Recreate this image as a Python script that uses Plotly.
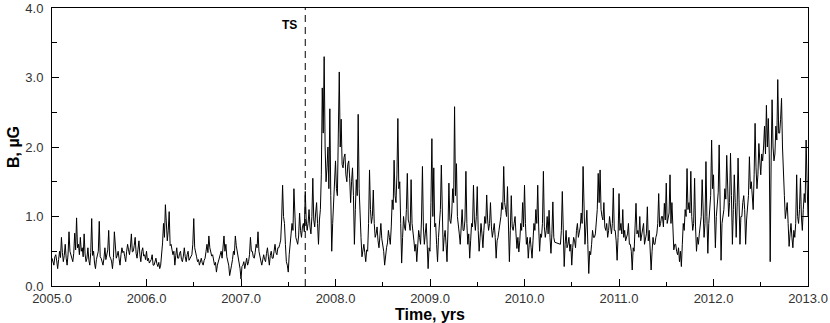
import plotly.graph_objects as go

# B-field magnitude, read roughly every 0.01 yr (100 samples per year)
SAMPLES_PER_YEAR = 100
TS_YEAR = 2007.68

b_2005 = [0.4, 0.33, 0.3, 0.42, 0.45, 0.36, 0.25, 0.38, 0.5, 0.41, 0.7, 0.48, 0.35, 0.44, 0.6, 0.4, 0.3, 0.46, 0.78, 0.5,
          0.45, 0.38, 0.35, 0.47, 0.76, 0.52, 0.98, 0.55, 0.6, 0.45, 0.7, 0.5, 0.55, 0.42, 0.75, 0.46, 0.35, 0.4, 0.55, 0.37,
          0.3, 0.48, 0.97, 0.44, 0.5, 0.33, 0.25, 0.38, 0.45, 0.5, 0.93, 0.42, 0.4, 0.35, 0.3, 0.4, 0.55, 0.38, 0.45, 0.52,
          0.8, 0.43, 0.4, 0.36, 0.25, 0.41, 0.78, 0.47, 0.4, 0.44, 0.5, 0.39, 0.3, 0.45, 0.55, 0.48, 0.5, 0.42, 0.35, 0.5,
          0.6, 0.52, 0.45, 0.56, 0.75, 0.49, 0.5, 0.58, 0.7, 0.47, 0.4, 0.53, 0.65, 0.45, 0.35, 0.5, 0.55, 0.43, 0.45, 0.38]
b_2006 = [0.5, 0.36, 0.4, 0.33, 0.35, 0.38, 0.45, 0.3, 0.3, 0.35, 0.4, 0.32, 0.28, 0.34, 0.25, 0.3, 0.45, 0.62, 0.9, 0.7,
          1.17, 0.75, 0.65, 0.8, 1.07, 0.58, 0.6, 0.52, 0.45, 0.5, 0.3, 0.44, 0.55, 0.4, 0.4, 0.47, 0.5, 0.38, 0.35, 0.43,
          0.55, 0.42, 0.35, 0.45, 0.5, 0.37, 0.4, 0.44, 0.45, 0.6, 0.97, 0.55, 0.5, 0.42, 0.35, 0.38, 0.3, 0.35, 0.4, 0.33,
          0.3, 0.37, 0.4, 0.5, 0.6, 0.48, 0.72, 0.55, 0.5, 0.43, 0.45, 0.38, 0.3, 0.34, 0.2, 0.3, 0.35, 0.4, 0.45, 0.5,
          0.4, 0.55, 0.72, 0.5, 0.6, 0.42, 0.35, 0.3, 0.15, 0.27, 0.3, 0.38, 0.5, 0.45, 0.72, 0.58, 0.5, 0.4, 0.3, 0.25]
b_2007 = [0.1, 0.28, 0.3, 0.35, 0.25, 0.33, 0.4, 0.3, 0.35, 0.45, 0.7, 0.5, 0.5, 0.42, 0.4, 0.48, 0.6, 0.55, 0.78, 0.5,
          0.45, 0.36, 0.3, 0.4, 0.45, 0.38, 0.35, 0.47, 0.55, 0.42, 0.3, 0.44, 0.5, 0.4, 0.4, 0.5, 0.6, 0.48, 0.45, 0.55,
          0.55, 0.6, 0.66, 0.95, 1.45, 1.0, 0.9, 0.6, 0.35, 0.3, 0.2, 0.45, 0.66, 0.75, 0.9, 0.8, 1.4, 0.85, 0.7, 0.65,
          0.6, 0.72, 1.05, 0.8, 0.7, 0.85, 0.9, 0.78, 1.36, 0.95, 0.8, 0.9, 1.1, 0.85, 0.75, 1.0, 1.55, 0.95, 0.85, 1.05,
          1.2, 0.9, 0.6, 0.95, 1.1, 1.6, 2.85, 2.2, 3.3, 2.0, 1.5, 1.7, 2.0, 1.4, 2.55, 1.3, 0.5, 0.9, 1.2, 1.5]
b_2008 = [1.8, 1.4, 1.3, 2.2, 3.08, 2.0, 2.4, 1.75, 1.7, 1.85, 1.9, 1.6, 1.5, 1.75, 1.8, 1.55, 1.2, 1.5, 1.7, 1.3,
          0.6, 1.1, 1.53, 1.3, 2.47, 1.4, 0.9, 0.7, 0.42, 0.55, 0.6, 0.48, 0.35, 0.52, 0.5, 0.9, 1.67, 1.1, 0.9, 1.0,
          1.38, 0.9, 0.7, 0.75, 0.85, 0.65, 0.55, 0.72, 0.9, 0.68, 0.6, 0.5, 0.3, 0.45, 0.55, 0.62, 0.8, 0.7, 0.6, 0.85,
          1.24, 1.1, 1.81, 1.3, 1.2, 1.6, 2.41, 1.4, 1.5, 0.9, 0.33, 0.7, 1.0, 0.85, 0.8, 1.1, 1.62, 0.95, 0.9, 0.8,
          1.53, 0.9, 0.7, 0.65, 0.5, 0.6, 0.35, 0.55, 0.8, 0.7, 0.6, 0.95, 1.72, 0.85, 0.6, 0.75, 0.9, 0.6, 0.25, 0.55]
b_2009 = [0.5, 1.2, 2.12, 1.0, 1.7, 0.85, 0.9, 0.6, 0.35, 0.7, 0.9, 1.1, 1.74, 0.9, 0.5, 0.7, 0.8, 0.6, 0.35, 0.8,
          1.48, 0.95, 0.9, 1.05, 1.4, 1.2, 2.58, 1.3, 1.76, 1.0, 0.9, 0.75, 0.6, 0.85, 1.1, 0.8, 0.8, 0.95, 1.65, 0.9,
          0.6, 0.75, 0.4, 0.65, 0.9, 0.85, 1.45, 0.95, 0.8, 1.0, 1.43, 0.8, 0.5, 0.7, 0.9, 0.75, 0.55, 0.8, 1.0, 0.9,
          1.31, 0.95, 0.8, 0.9, 1.2, 0.85, 0.7, 0.8, 0.9, 0.7, 0.4, 0.65, 0.7, 0.8, 0.9, 1.0, 1.2, 1.1, 1.72, 1.2,
          1.1, 1.0, 1.43, 0.9, 0.35, 0.8, 1.3, 0.85, 0.8, 0.9, 1.0, 0.75, 0.54, 0.7, 0.49, 0.65, 0.9, 0.8, 1.2, 0.85]
# None = data gap (joined by a straight line, as in the source)
b_2010 = [1.45, 0.9, 0.6, 0.7, 0.4, 0.6, 0.7, 0.55, 0.4, 0.65, 0.9, 0.8, 1.1, 0.9, 1.45, 0.85, 0.5, 0.75, 0.7, 0.9,
          1.65, 0.85, 0.7, 0.8, 1.0, 0.75, 1.09, 0.7, 0.47, 0.75, 1.21, 0.7, 0.63, None, None, None, None, None, 0.6, 0.8,
          1.36, 0.7, 0.28, 0.6, 0.8, 0.55, 0.6, 0.7, 0.5, 0.6, 0.3, 0.55, 0.7, 0.65, 0.55, 0.8, 0.9, 0.7, 0.8, 0.85,
          1.05, 0.9, 1.72, 0.8, 0.6, 0.85, 1.09, 0.6, 0.18, 0.5, 0.45, 0.6, 0.8, 0.7, 0.7, 0.75, 0.95, 1.1, 1.62, 1.2,
          1.67, 1.1, 1.0, 0.95, 1.2, 0.85, 0.8, 0.9, 0.7, 0.8, 1.0, 0.85, 0.75, 0.9, 1.41, 0.8, 0.8, 0.65, 0.37, 0.7]
b_2011 = [1.33, 0.8, 0.9, 0.75, 1.1, 0.7, 0.8, 0.65, 0.7, 0.75, 0.9, 0.6, 0.6, 0.5, 0.23, 0.55, 0.5, 0.8, 1.19, 0.75,
          0.8, 0.7, 1.0, 0.65, 0.76, 0.8, 0.9, 0.6, 0.7, 0.75, 1.14, 0.65, 0.8, 0.55, 0.23, 0.5, 0.7, 0.6, 0.6, 0.7,
          0.75, 0.9, 1.33, 0.85, 0.9, 1.0, 1.0, 0.85, 1.19, 0.95, 1.48, 0.9, 1.0, 1.05, 1.6, 0.9, 1.2, 0.7, 0.52, 0.6,
          0.6, 0.5, 0.45, 0.55, 0.35, 0.5, 0.28, 0.6, 0.9, 0.8, 1.1, 1.0, 1.69, 1.1, 1.2, 1.05, 1.65, 1.0, 0.8, 0.9,
          1.55, 0.85, 0.5, 0.7, 0.6, 0.75, 0.9, 1.0, 1.53, 0.95, 0.7, 0.9, 1.79, 1.0, 0.47, 0.9, 1.2, 1.3, 2.1, 1.4]
b_2012 = [1.6, 1.2, 0.55, 1.0, 1.2, 1.35, 2.03, 1.2, 0.37, 0.9, 1.0, 1.1, 1.4, 1.25, 1.88, 1.3, 1.0, 1.2, 1.91, 1.3,
          0.6, 1.1, 1.6, 1.2, 0.7, 1.15, 1.84, 1.25, 0.6, 1.0, 1.0, 1.2, 1.3, 1.1, 0.6, 0.95, 1.1, 1.3, 1.86, 1.4,
          1.5, 1.3, 1.1, 1.6, 2.34, 1.7, 1.4, 1.6, 2.05, 1.8, 1.6, 1.9, 1.8, 2.0, 2.3, 1.9, 2.6, 2.0, 2.41, 1.9,
          0.35, 1.8, 2.68, 2.0, 1.8, 1.9, 2.3, 2.1, 2.97, 2.2, 2.2, 2.4, 2.7, 2.0, 1.5, 1.3, 0.97, 1.1, 1.2, 0.9,
          0.57, 0.75, 0.9, 0.7, 0.55, 0.8, 0.7, 0.9, 1.6, 1.0, 0.9, 1.1, 1.55, 1.0, 0.8, 1.1, 1.33, 1.2, 2.1, 1.5]
b_2013 = [1.0]

years = [2005, 2006, 2007, 2008, 2009, 2010, 2011, 2012, 2013]
series = [b_2005, b_2006, b_2007, b_2008, b_2009, b_2010, b_2011, b_2012, b_2013]

t, b = [], []
for yr, vals in zip(years, series):
    for i, v in enumerate(vals):
        t.append(yr + i / SAMPLES_PER_YEAR)
        b.append(v)

FONT = "Liberation Sans, Arial, sans-serif"

fig = go.Figure()
fig.add_trace(
    go.Scatter(
        x=t,
        y=b,
        mode="lines",
        line=dict(color="black", width=1),
        connectgaps=True,
        showlegend=False,
        hoverinfo="skip",
    )
)

fig.add_shape(
    type="line", xref="x", yref="paper",
    x0=TS_YEAR, x1=TS_YEAR, y0=0, y1=1,
    line=dict(color="black", width=1, dash="7px,5px"),
)
fig.add_annotation(
    x=TS_YEAR, y=3.76, text="<b>TS</b>", showarrow=False,
    xanchor="right", yanchor="middle", xshift=-6,
    font=dict(family=FONT, size=12, color="black"),
)

fig.update_layout(
    width=830,
    height=323,
    margin=dict(l=52, r=22, t=8, b=37),
    paper_bgcolor="white",
    plot_bgcolor="white",
    font=dict(family=FONT, size=13, color="#333"),
    xaxis=dict(
        range=[2005, 2013],
        dtick=1,
        tick0=2005,
        tickformat=".1f",
        ticks="inside",
        ticklen=7,
        tickcolor="black",
        showline=True,
        linecolor="black",
        linewidth=1,
        mirror=True,
        showgrid=False,
        zeroline=False,
        automargin=False,
        minor=dict(dtick=0.5, ticks="inside", ticklen=4, tickcolor="black", showgrid=False),
        title=dict(text="<b>Time, yrs</b>", font=dict(family=FONT, size=16, color="black"), standoff=0),
    ),
    yaxis=dict(
        range=[0, 4],
        dtick=1,
        tickformat=".1f",
        ticks="inside",
        ticklen=7,
        tickcolor="black",
        ticklabelstandoff=5,
        showline=True,
        linecolor="black",
        linewidth=1,
        mirror="ticks",
        showgrid=False,
        zeroline=False,
        automargin=False,
        minor=dict(dtick=0.5, ticks="inside", ticklen=5, tickcolor="black", showgrid=False),
        title=dict(text="<b>B, µG</b>", font=dict(family=FONT, size=16, color="black"), standoff=1),
    ),
)

# drop the browser's default body margin so the figure sits at the page origin
fig.write_html(
    "out.html",
    config={"displayModeBar": False},
    post_script="document.body.style.margin='0';document.body.style.padding='0';",
)
